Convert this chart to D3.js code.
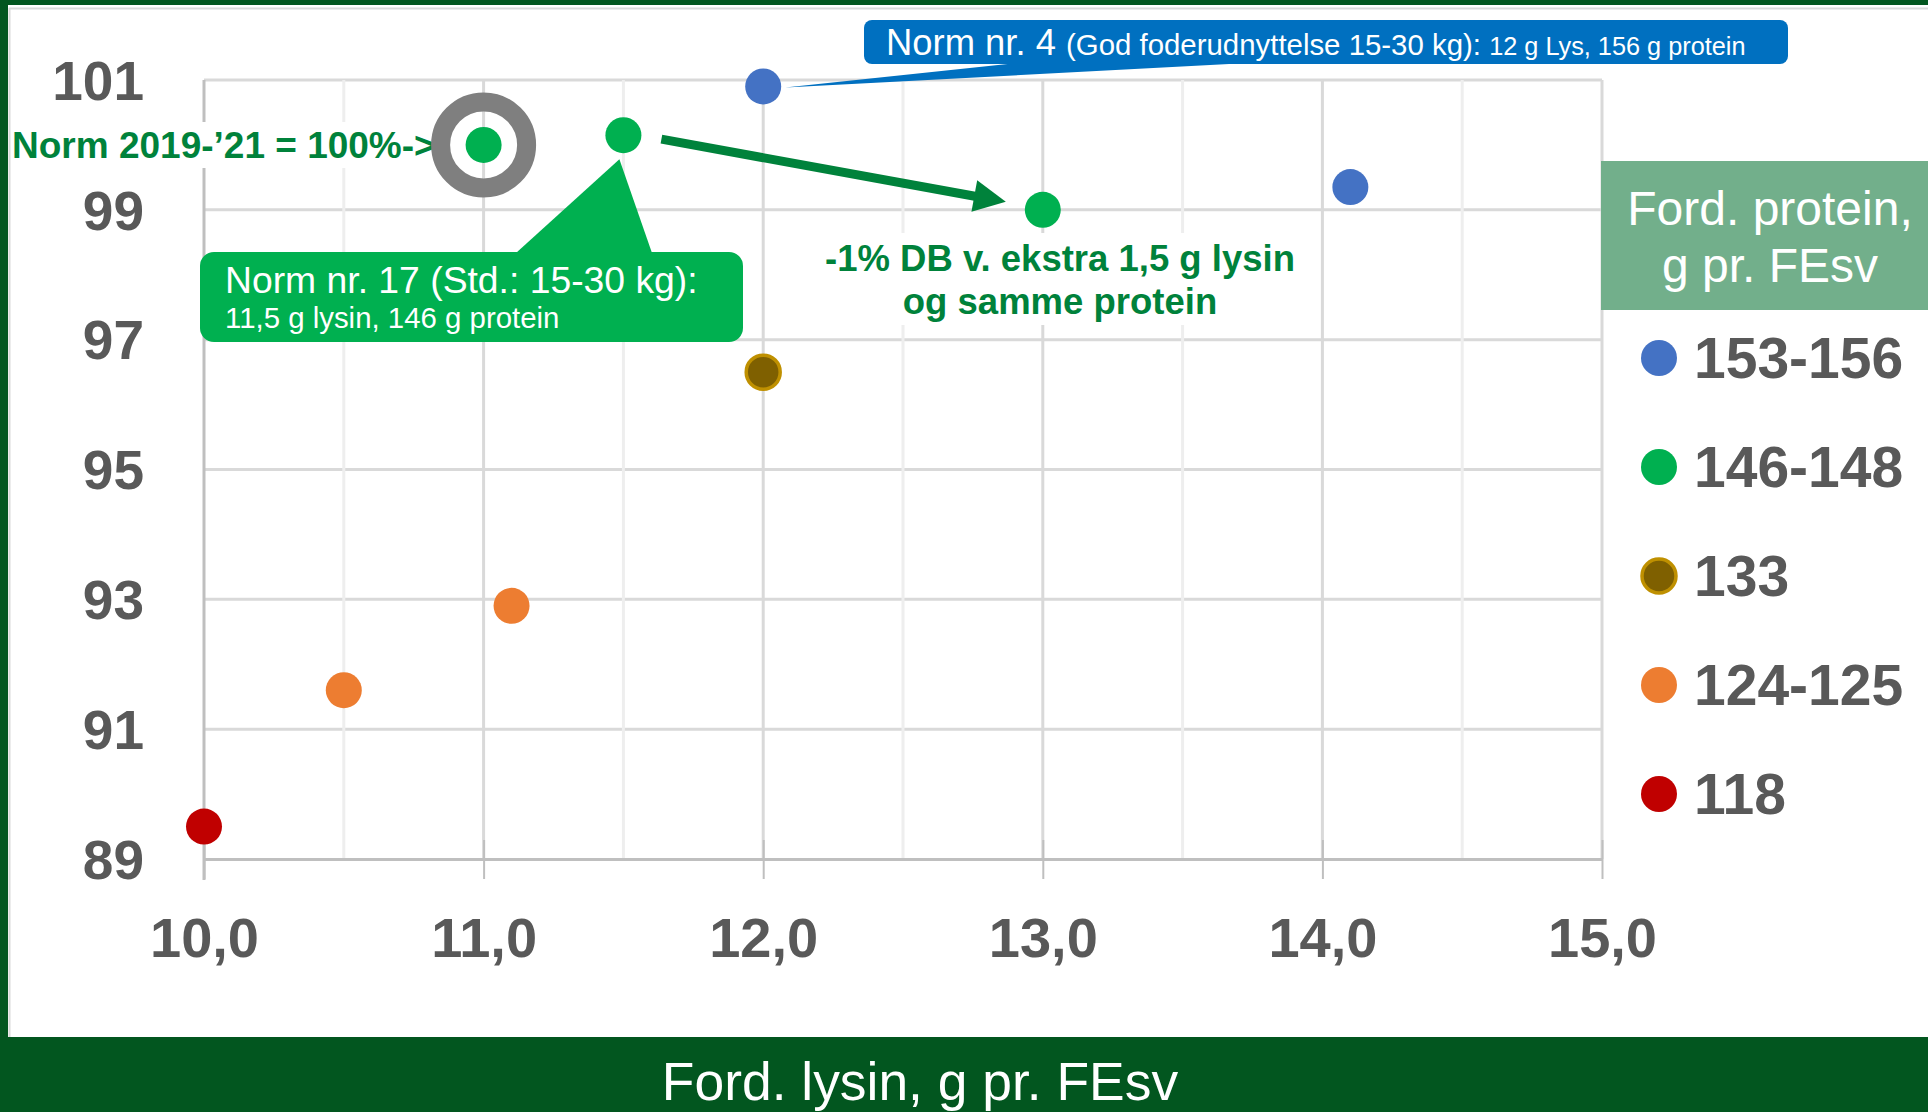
<!DOCTYPE html>
<html>
<head>
<meta charset="utf-8">
<script src="https://cdn.jsdelivr.net/npm/d3@7/dist/d3.min.js"></script>
<style>
  html, body { margin: 0; padding: 0; background: #ffffff; }
  svg { display: block; font-family: "Liberation Sans", Arial, sans-serif; }
</style>
</head>
<body>
<svg id="chart" width="1928" height="1112"></svg>
<script>
// ---------- DATA ----------
const xTicks = [10, 11, 12, 13, 14, 15];
const xMinorTicks = [10.5, 11.5, 12.5, 13.5, 14.5];
const yTicks = [89, 91, 93, 95, 97, 99, 101];

const seriesNames = ["153-156", "146-148", "133", "124-125", "118"];
// Ford. lysin (g pr. FEsv) and relative DB (%) per protein group
const lysin153 = [12.0, 14.1];
const db153    = [100.9, 99.35];
const lysin146 = [11.0, 11.5, 13.0];
const db146    = [100.0, 100.15, 99.0];
const lysin133 = [12.0];
const db133    = [96.5];
const lysin124 = [10.5, 11.1];
const db124    = [91.6, 92.9];
const lysin118 = [10.0];
const db118    = [89.5];

const xTitle = "Ford. lysin, g pr. FEsv";
const legendTitle = ["Ford. protein,", "g pr. FEsv"];

// ---------- STYLE ----------
const fills   = ["#4472C4", "#00B050", "#7F6000", "#ED7D31", "#C00000"];
const strokes = [null, null, "#BF9000", null, null];
const textGray = "#595959";
const darkGreen = "#02561F";
const annoGreen = "#00823B";

const series = [
  { name: seriesNames[0], xs: lysin153, ys: db153 },
  { name: seriesNames[1], xs: lysin146, ys: db146 },
  { name: seriesNames[2], xs: lysin133, ys: db133 },
  { name: seriesNames[3], xs: lysin124, ys: db124 },
  { name: seriesNames[4], xs: lysin118, ys: db118 }
];

const svg = d3.select("#chart");
const W = 1928, H = 1112;

const x = d3.scaleLinear().domain([10, 15]).range([204, 1602]);
const y = d3.scaleLinear().domain([89, 101]).range([859, 80]);

// ---------- FRAME ----------
svg.append("rect").attr("x", 0).attr("y", 0).attr("width", W).attr("height", H).attr("fill", "#ffffff");
svg.append("line").attr("x1", 9.5).attr("x2", 9.5).attr("y1", 8).attr("y2", 1037).attr("stroke", "#d9d9d9").attr("stroke-width", 2);
svg.append("line").attr("x1", 9).attr("x2", W).attr("y1", 8.5).attr("y2", 8.5).attr("stroke", "#d9d9d9").attr("stroke-width", 2);
svg.append("rect").attr("x", 0).attr("y", 0).attr("width", 8).attr("height", H).attr("fill", darkGreen);
svg.append("rect").attr("x", 0).attr("y", 0).attr("width", W).attr("height", 5).attr("fill", darkGreen);
svg.append("rect").attr("x", 0).attr("y", 1037).attr("width", W).attr("height", H - 1037).attr("fill", darkGreen);

// ---------- GRID ----------
const grid = svg.append("g");
grid.selectAll(".hg").data(yTicks.filter(d => d !== 89)).join("line")
  .attr("x1", x(10)).attr("x2", x(15)).attr("y1", d => y(d)).attr("y2", d => y(d))
  .attr("stroke", "#d9d9d9").attr("stroke-width", 3);
grid.selectAll(".vm").data(xMinorTicks).join("line")
  .attr("x1", d => x(d)).attr("x2", d => x(d)).attr("y1", y(101)).attr("y2", y(89))
  .attr("stroke", "#eeeeee").attr("stroke-width", 3);
grid.selectAll(".vM").data(xTicks.filter(d => d !== 10)).join("line")
  .attr("x1", d => x(d)).attr("x2", d => x(d)).attr("y1", y(101)).attr("y2", y(89))
  .attr("stroke", "#d9d9d9").attr("stroke-width", 3);

// ---------- AXES ----------
const fmtX = d => d.toFixed(1).replace(".", ",");
const xAxis = svg.append("g").attr("transform", `translate(0,${y(89)})`)
  .call(d3.axisBottom(x).tickValues(xTicks).tickFormat(fmtX).tickSizeInner(20).tickSizeOuter(0).tickPadding(38));
xAxis.select(".domain").attr("stroke", "#bfbfbf").attr("stroke-width", 3);
xAxis.selectAll(".tick line").attr("y1", -19).attr("stroke", "#bfbfbf").attr("stroke-width", 2);
xAxis.selectAll(".tick text").attr("fill", textGray).attr("font-size", 56).attr("font-weight", "bold")
  .attr("font-family", "Liberation Sans, Arial, sans-serif");

const yAxis = svg.append("g").attr("transform", `translate(${x(10)},0)`)
  .call(d3.axisLeft(y).tickValues(yTicks).tickFormat(d3.format("d")).tickSize(0).tickPadding(60));
yAxis.select(".domain").remove();
yAxis.selectAll(".tick text").attr("fill", textGray).attr("font-size", 55).attr("font-weight", "bold")
  .attr("dy", "0.35em").attr("font-family", "Liberation Sans, Arial, sans-serif");
svg.append("line").attr("x1", x(10)).attr("x2", x(10)).attr("y1", y(101)).attr("y2", y(89) + 21)
  .attr("stroke", "#bfbfbf").attr("stroke-width", 3);

// ---------- ANNOTATION BACKGROUNDS ----------
svg.append("rect").attr("x", 11).attr("y", 122).attr("width", 425).attr("height", 46).attr("fill", "#ffffff");
svg.append("rect").attr("x", 815).attr("y", 233).attr("width", 490).attr("height", 92).attr("fill", "#ffffff");

// Norm 2019 text
svg.append("text").attr("x", 12).attr("y", 158).attr("fill", annoGreen)
  .attr("font-size", 37).attr("font-weight", "bold").text("Norm 2019-\u201921 = 100%->");

// Ring around reference point
svg.append("circle").attr("cx", x(lysin146[0])).attr("cy", y(db146[0])).attr("r", 43)
  .attr("fill", "none").attr("stroke", "#7f7f7f").attr("stroke-width", 19);

// -1% DB text
const t2 = svg.append("text").attr("fill", annoGreen).attr("font-size", 36.5).attr("font-weight", "bold")
  .attr("text-anchor", "middle");
t2.append("tspan").attr("x", 1060).attr("y", 271).text("-1% DB v. ekstra 1,5 g lysin");
t2.append("tspan").attr("x", 1060).attr("y", 314).text("og samme protein");

// Arrow
const ax1 = x(lysin146[1]) + 38, ay1 = y(db146[1]) + 4;
const ax2 = x(lysin146[2]) - 37, ay2 = y(db146[2]) - 8;
const ang = Math.atan2(ay2 - ay1, ax2 - ax1);
const hl = 32, hw = 16;
const bx = ax2 - hl * Math.cos(ang), by = ay2 - hl * Math.sin(ang);
svg.append("line").attr("x1", ax1).attr("y1", ay1).attr("x2", bx + 2 * Math.cos(ang)).attr("y2", by + 2 * Math.sin(ang))
  .attr("stroke", annoGreen).attr("stroke-width", 9);
svg.append("path").attr("fill", annoGreen).attr("d",
  `M${ax2},${ay2} L${bx - hw * Math.sin(ang)},${by + hw * Math.cos(ang)} L${bx + hw * Math.sin(ang)},${by - hw * Math.cos(ang)} Z`);

// Green callout (Norm nr. 17)
const gTipX = x(lysin146[1]) - 4, gTipY = y(db146[1]) + 24;
svg.append("path").attr("fill", "#00B050").attr("d", `M516,253 L${gTipX},${gTipY} L652,253 Z`);
svg.append("rect").attr("x", 200).attr("y", 252).attr("width", 543).attr("height", 90).attr("rx", 14).attr("fill", "#00B050");
svg.append("text").attr("x", 225).attr("y", 293).attr("fill", "#ffffff").attr("font-size", 37.3)
  .text("Norm nr. 17 (Std.: 15-30 kg):");
svg.append("text").attr("x", 225).attr("y", 328).attr("fill", "#ffffff").attr("font-size", 29.4)
  .text("11,5 g lysin, 146 g protein");

// Blue callout (Norm nr. 4)
const bTipX = x(lysin153[0]) + 22, bTipY = y(db153[0]) + 1;
svg.append("path").attr("fill", "#0070C0").attr("d", `M1017,63 L${bTipX},${bTipY} L1248,63 Z`);
svg.append("rect").attr("x", 864).attr("y", 20).attr("width", 924).attr("height", 44).attr("rx", 8).attr("fill", "#0070C0");
const t3 = svg.append("text").attr("x", 886).attr("y", 55).attr("fill", "#ffffff");
t3.append("tspan").attr("font-size", 36.4).text("Norm nr. 4 ");
t3.append("tspan").attr("font-size", 29.4).text("(God foderudnyttelse 15-30 kg): ");
t3.append("tspan").attr("font-size", 25.3).text("12 g Lys, 156 g protein");

// ---------- POINTS ----------
series.forEach((s, i) => {
  const pts = s.xs.map((v, k) => ({ x: v, y: s.ys[k] }));
  svg.append("g").selectAll("circle").data(pts).join("circle")
    .attr("cx", d => x(d.x)).attr("cy", d => y(d.y))
    .attr("r", strokes[i] ? 17 : 18)
    .attr("fill", fills[i])
    .attr("stroke", strokes[i] || "none").attr("stroke-width", strokes[i] ? 3.5 : 0);
});

// ---------- LEGEND ----------
svg.append("rect").attr("x", 1601).attr("y", 161).attr("width", W - 1601).attr("height", 149).attr("fill", "#72AF8B");
legendTitle.forEach((t, i) => {
  svg.append("text").attr("x", 1770).attr("y", 225 + i * 57).attr("text-anchor", "middle")
    .attr("fill", "#ffffff").attr("font-size", 48).text(t);
});
const legY = [358, 467, 576, 685, 794];
seriesNames.forEach((n, i) => {
  svg.append("circle").attr("cx", 1659).attr("cy", legY[i]).attr("r", strokes[i] ? 17 : 18)
    .attr("fill", fills[i]).attr("stroke", strokes[i] || "none").attr("stroke-width", strokes[i] ? 3.5 : 0);
  svg.append("text").attr("x", 1694).attr("y", legY[i] + 20).attr("fill", textGray)
    .attr("font-size", 57).attr("font-weight", "bold").text(n);
});

// ---------- X TITLE ----------
svg.append("text").attr("x", 920).attr("y", 1100).attr("text-anchor", "middle").attr("fill", "#ffffff")
  .attr("font-size", 53.4).text(xTitle);
</script>
</body>
</html>
